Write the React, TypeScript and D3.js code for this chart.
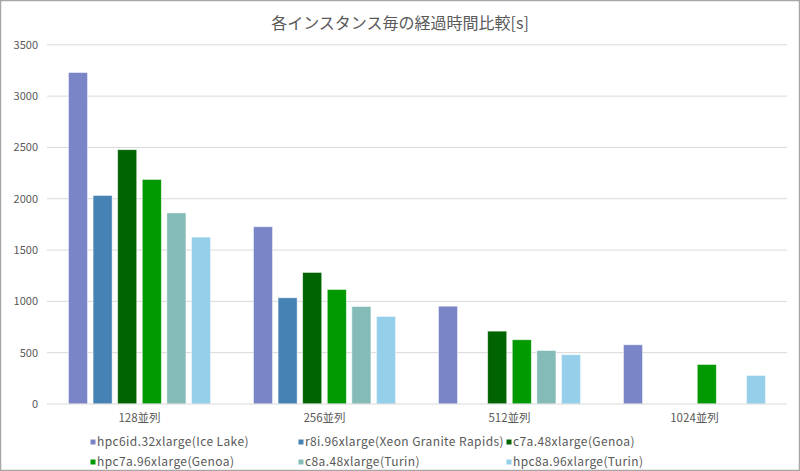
import React from "react";
import * as d3 from "d3";

const categories = ["128並列", "256並列", "512並列", "1024並列"];
const seriesNames = [
  "hpc6id.32xlarge(Ice Lake)",
  "r8i.96xlarge(Xeon Granite Rapids)",
  "c7a.48xlarge(Genoa)",
  "hpc7a.96xlarge(Genoa)",
  "c8a.48xlarge(Turin)",
  "hpc8a.96xlarge(Turin)",
];
const seriesColors = ["#7985C6", "#4682B4", "#006400", "#009A00", "#85BBB7", "#95CFEA"];
// values per series, by category (null = no bar)
const hpc6id = [3230, 1727, 953, 577];
const r8i = [2032, 1035, null, null];
const c7a = [2478, 1282, 710, null];
const hpc7a = [2188, 1116, 626, 385];
const c8a = [1862, 950, 521, null];
const hpc8a = [1626, 853, 480, 278];
const seriesValues = [hpc6id, r8i, c7a, hpc7a, c8a, hpc8a];
const yTicks = [0, 500, 1000, 1500, 2000, 2500, 3000, 3500];

const W = 800;
const H = 471;
const left = 47;
const right = 787;
const top = 44.8;
const bottom = 404;
const font = "'Noto Sans CJK JP', 'Noto Sans', sans-serif";
const textColor = "#595959";

export default function App() {
  const x0 = d3.scaleBand<string>().domain(categories).range([left, right]).paddingInner(0.232).paddingOuter(0.116);
  const x1 = d3
    .scaleBand<number>()
    .domain(seriesNames.map((_, i) => i))
    .range([0, x0.bandwidth()])
    .paddingInner(0.225);
  const y = d3.scaleLinear().domain([0, 3500]).range([bottom, top]);

  const legendCols = [93, 301, 509];
  const legendRows = [442, 462];

  return (
    <svg
      width={W}
      height={H}
      style={{ position: "absolute", left: 0, top: 0, background: "#fff" }}
      fontFamily={font}
    >
      <rect x={0.5} y={0.5} width={W - 1} height={H - 1} fill="#fff" stroke="#A6A6A6" strokeWidth={1.5} />
      <text x={400} y={29} textAnchor="middle" fontSize={16} fill={textColor}>
        各インスタンス毎の経過時間比較[s]
      </text>
      {yTicks.map((t) => (
        <g key={t}>
          {t > 0 && (
            <line x1={left} x2={right} y1={y(t)} y2={y(t)} stroke="#D9D9D9" strokeWidth={1} />
          )}
          <text x={38} y={y(t) + 4} textAnchor="end" fontSize={11} fill={textColor}>
            {t}
          </text>
        </g>
      ))}
      {categories.map((c, ci) => (
        <g key={c} transform={`translate(${x0(c)},0)`}>
          {seriesValues.map((vals, si) => {
            const v = vals[ci];
            if (v == null) return null;
            return (
              <rect
                key={si}
                x={x1(si)}
                y={y(v)}
                width={x1.bandwidth()}
                height={y(0) - y(v)}
                fill={seriesColors[si]}
                stroke="#ffffff"
                strokeOpacity={0.6}
                strokeWidth={0.8}
              />
            );
          })}
        </g>
      ))}
      <line x1={left} x2={right} y1={y(0)} y2={y(0)} stroke="#D9D9D9" strokeWidth={1} />
      {categories.map((c) => (
        <text
          key={c}
          x={(x0(c) as number) + x0.bandwidth() / 2}
          y={422}
          textAnchor="middle"
          fontSize={11.5}
          fill={textColor}
        >
          {c}
        </text>
      ))}
      {seriesNames.map((n, i) => {
        const lx = legendCols[i % 3];
        const ly = legendRows[Math.floor(i / 3)];
        return (
          <g key={n}>
            <rect x={lx - 2.5} y={ly - 2.5} width={5} height={5} fill={seriesColors[i]} />
            <text x={lx + 4} y={ly + 4.2} fontSize={12} letterSpacing={0.4} fill={textColor}>
              {n}
            </text>
          </g>
        );
      })}
    </svg>
  );
}
